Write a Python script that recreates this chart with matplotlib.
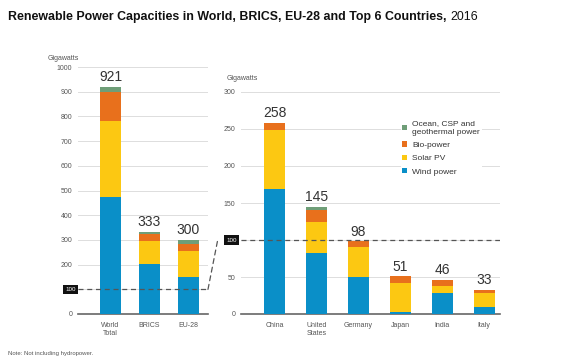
import matplotlib
matplotlib.use("Agg")
import matplotlib.pyplot as plt
from matplotlib.patches import ConnectionPatch
import numpy as np

plt.rcParams['font.family'] = ['Liberation Sans', 'DejaVu Sans']

# data (GW)
groups = ["World\nTotal", "BRICS", "EU-28"]
g_wind = [472, 203, 151]
g_solar = [310, 92, 104]
g_bio = [117, 28, 30]
g_other = [22, 10, 15]
g_total = [921, 333, 300]

countries = ["China", "United\nStates", "Germany", "Japan", "India", "Italy"]
c_wind = [169, 82, 50, 3, 29, 9]
c_solar = [79, 42, 41, 39, 9, 19]
c_bio = [10, 16, 7, 9, 8, 4]
c_other = [0, 5, 0, 0, 0, 1]
c_total = [258, 145, 98, 51, 46, 33]

series = ["Wind power", "Solar PV", "Bio-power", "Ocean, CSP and\ngeothermal power"]
colors = ["#0a8fc8", "#fcc812", "#e8701c", "#6f9e78"]

W, H = 570, 359
fig = plt.figure(figsize=(W / 100, H / 100), dpi=100)

def pos(x0, x1, y0, y1):
    return [x0 / W, 1 - y1 / H, (x1 - x0) / W, (y1 - y0) / H]

ax1 = fig.add_axes(pos(78, 208, 67, 314))
ax2 = fig.add_axes(pos(241, 500, 92, 314))

def draw(ax, labels, stacks, totals, width, ymax, step):
    x = np.arange(len(labels))
    bottom = np.zeros(len(labels))
    for vals, col, name in zip(stacks, colors, series):
        ax.bar(x, vals, width, bottom=bottom, color=col, label=name, zorder=3)
        bottom += np.array(vals)
    for xi, t in zip(x, totals):
        ax.text(xi, t + ymax * 0.012, str(t), ha='center', va='bottom',
                fontsize=10, color='#333333', zorder=4)
    ax.set_ylim(0, ymax)
    ticks = np.arange(0, ymax + 1, step)
    ax.set_yticks(ticks)
    ax.set_yticklabels(['' if t == 100 else str(int(t)) for t in ticks])
    ax.set_xticks(x)
    ax.set_xticklabels(labels, fontsize=5.5, color='#444444', linespacing=1.1)
    ax.tick_params(length=0, pad=4, labelsize=5, labelcolor='#555555')
    ax.tick_params(axis='x', pad=6)
    ax.yaxis.grid(True, color='#dddddd', linewidth=0.7, zorder=0)
    for s in ['top', 'right', 'left']:
        ax.spines[s].set_visible(False)
    ax.spines['bottom'].set_color('#666666')
    ax.spines['bottom'].set_linewidth(1.2)
    ax.axhline(100, color='#555555', linestyle=(0, (4, 3)), linewidth=0.9, zorder=4)
    ax.text(-0.015, 100, '100', transform=ax.get_yaxis_transform(), ha='right', va='center',
            fontsize=4.5, color='white',
            bbox=dict(boxstyle='square,pad=0.35', fc='#111111', ec='none'))

draw(ax1, groups, [g_wind, g_solar, g_bio, g_other], g_total, 0.54, 1000, 100)
ax1.set_xlim(-0.833, 2.5)
draw(ax2, countries, [c_wind, c_solar, c_bio, c_other], c_total, 0.5, 300, 50)
ax2.set_xlim(-0.8, 5.38)

ax1.text(-0.23, 1.02, 'Gigawatts', transform=ax1.transAxes,
         fontsize=5, color='#555555', ha='left', va='bottom')
ax2.text(-0.055, 1.045, 'Gigawatts', transform=ax2.transAxes,
         fontsize=5, color='#555555', ha='left', va='bottom')

con = ConnectionPatch(xyA=(1, 100), coordsA=ax1.get_yaxis_transform(),
                      xyB=(-0.09, 100), coordsB=ax2.get_yaxis_transform(),
                      color='#555555', linestyle=(0, (4, 3)), linewidth=0.9)
fig.add_artist(con)

h, l = ax2.get_legend_handles_labels()
leg = ax2.legend(h[::-1], l[::-1], loc='upper left', bbox_to_anchor=(0.6, 0.9),
                 frameon=True, fontsize=6, handlelength=0.6, handleheight=0.6,
                 handletextpad=0.6, labelspacing=0.7, borderpad=0.2)
leg.get_frame().set_edgecolor('none')
leg.get_frame().set_facecolor('white')
leg.get_frame().set_alpha(1)
for t in leg.get_texts():
    t.set_color('#333333')
    t.set_linespacing(1.3)

# title: bold part scaled to fit the reference width, then the year
title = fig.text(8 / W, 1 - 17 / H,
                 'Renewable Power Capacities in World, BRICS, EU-28 and Top 6 Countries,',
                 fontsize=8.6, fontweight='bold', ha='left', va='center', color='#111111')
r = fig.canvas.get_renderer()
wpx = title.get_window_extent(r).width
title.set_fontsize(8.6 * 435 / wpx)
fig.text(450 / W, 1 - 17 / H, '2016', fontsize=8.6 * 435 / wpx,
         ha='left', va='center', color='#111111')
fig.text(8 / W, 1 - 353 / H, 'Note: Not including hydropower.', fontsize=4.3,
         color='#555555', ha='left', va='center')

fig.savefig('out.png', dpi=100)
